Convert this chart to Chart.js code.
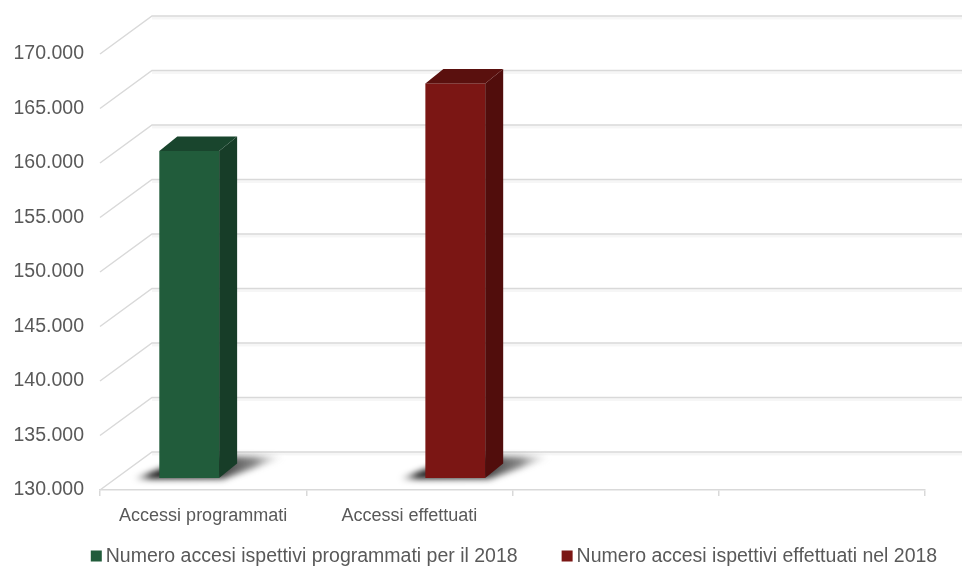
<!DOCTYPE html>
<html><head><meta charset="utf-8">
<script src="https://cdn.jsdelivr.net/npm/chart.js@4/dist/chart.umd.min.js"></script>
<style>html,body{margin:0;padding:0;background:#fff}canvas{display:block}</style>
</head><body>
<canvas id="c" width="962" height="569"></canvas>
<script>
// ---- data ----
const categories = ["Accessi programmati", "Accessi effettuati", "", ""];
const seriesNames = ["Numero accesi ispettivi programmati per il 2018", "Numero accesi ispettivi effettuati nel 2018"];
const programmati = [160000, null, null, null];
const effettuati = [null, 166200, null, null];
const yTicks = [130000, 135000, 140000, 145000, 150000, 155000, 160000, 165000, 170000];

// ---- styling ----
const FONT = "'Liberation Sans', Arial, sans-serif";
const TEXT = '#595959';
const GRID = '#d9d9d9';
const FLOOR = {dx: 52, dy: 38};     // depth of the 3D plot
const BAR_OFF = {dx: 16, dy: 12};   // bar front face position within depth
const BAR_D = {dx: 18, dy: 14.5};   // bar depth
const LEGEND = {centerX: 514, y: 556, box: 11, gap: 4, sep: 44, size: 19.5};

const fmt = v => String(v).replace(/\B(?=(\d{3})+(?!\d))/g, '.');

const threeD = {
  id: 'threeD',
  beforeDatasetsDraw(chart) {
    const ctx = chart.ctx, y = chart.scales.y, a = chart.chartArea;
    ctx.save();
    y.ticks.forEach(t => {
      const py = y.getPixelForValue(t.value);
      ctx.strokeStyle = 'rgba(0,0,0,0.035)'; ctx.lineWidth = 3;
      ctx.beginPath();
      ctx.moveTo(a.left + FLOOR.dx, py - FLOOR.dy + 2);
      ctx.lineTo(chart.width, py - FLOOR.dy + 2);
      ctx.stroke();
      ctx.strokeStyle = GRID; ctx.lineWidth = 1.5;
      ctx.beginPath();
      ctx.moveTo(a.left, py);
      ctx.lineTo(a.left + FLOOR.dx, py - FLOOR.dy);
      ctx.lineTo(chart.width, py - FLOOR.dy);
      ctx.stroke();
    });
    ctx.restore();
  },
  beforeDatasetDraw() { return false; },
  afterDatasetsDraw(chart) {
    const ctx = chart.ctx, ys = chart.scales.y;
    const floorY = ys.getPixelForValue(ys.min);
    const boxes = [];
    chart.data.datasets.forEach((ds, i) => {
      const meta = chart.getDatasetMeta(i);
      meta.data.forEach((bar, j) => {
        if (ds.data[j] == null) return;
        const p = bar.getProps(['x', 'y', 'base', 'width'], true);
        const base = Math.min(p.base, floorY);
        boxes.push({ds, l: p.x - p.width / 2 + BAR_OFF.dx, r: p.x + p.width / 2 + BAR_OFF.dx, t: p.y - BAR_OFF.dy, b: base - BAR_OFF.dy});
      });
    });
    // shadows
    boxes.forEach(({l, r, b}) => {
      ctx.save();
      ctx.filter = 'blur(3px)';
      const x0 = l - 26, x1 = r + BAR_D.dx + 48;
      const g = ctx.createLinearGradient(x0, 0, x1, 0);
      g.addColorStop(0, 'rgba(0,0,0,0.05)');
      g.addColorStop(0.12, 'rgba(0,0,0,0.9)');
      g.addColorStop(0.55, 'rgba(20,20,20,0.85)');
      g.addColorStop(0.8, 'rgba(60,60,60,0.6)');
      g.addColorStop(1, 'rgba(160,160,160,0.0)');
      ctx.fillStyle = g;
      ctx.beginPath();
      ctx.moveTo(x0, b + 1);
      ctx.lineTo(r + 4, b + 1);
      ctx.lineTo(x1, b - BAR_D.dy - 7);
      ctx.lineTo(l + BAR_D.dx + 16, b - BAR_D.dy - 7);
      ctx.closePath();
      ctx.fill();
      ctx.restore();
    });
    // boxes
    boxes.forEach(({ds, l, r, t, b}) => {
      ctx.save();
      ctx.fillStyle = ds.backgroundColor;
      ctx.fillRect(l, t, r - l, b - t);
      ctx.fillStyle = ds.sideColor;
      ctx.beginPath();
      ctx.moveTo(r, t); ctx.lineTo(r + BAR_D.dx, t - BAR_D.dy);
      ctx.lineTo(r + BAR_D.dx, b - BAR_D.dy); ctx.lineTo(r, b); ctx.closePath(); ctx.fill();
      ctx.fillStyle = ds.topColor;
      ctx.beginPath();
      ctx.moveTo(l, t); ctx.lineTo(l + BAR_D.dx, t - BAR_D.dy);
      ctx.lineTo(r + BAR_D.dx, t - BAR_D.dy); ctx.lineTo(r, t); ctx.closePath(); ctx.fill();
      ctx.restore();
    });
  },
  afterDraw(chart) {
    const ctx = chart.ctx;
    ctx.save();
    ctx.font = LEGEND.size + 'px ' + FONT;
    ctx.textBaseline = 'middle';
    ctx.textAlign = 'left';
    const items = chart.data.datasets.map((ds, i) => ({text: seriesNames[i], color: ds.backgroundColor}));
    items.forEach(it => { it.w = LEGEND.box + LEGEND.gap + ctx.measureText(it.text).width; });
    const total = items.reduce((s, it) => s + it.w, 0) + LEGEND.sep * (items.length - 1);
    let x = LEGEND.centerX - total / 2;
    items.forEach(it => {
      ctx.fillStyle = it.color;
      ctx.fillRect(x, LEGEND.y - LEGEND.box / 2, LEGEND.box, LEGEND.box);
      ctx.fillStyle = TEXT;
      ctx.fillText(it.text, x + LEGEND.box + LEGEND.gap, LEGEND.y + 1);
      x += it.w + LEGEND.sep;
    });
    ctx.restore();
  }
};

new Chart(document.getElementById('c'), {
  type: 'bar',
  data: {
    labels: categories,
    datasets: [
      {label: seriesNames[0], data: programmati, backgroundColor: '#215c3b', sideColor: '#173d28', topColor: '#19452d'},
      {label: seriesNames[1], data: effettuati, backgroundColor: '#7b1614', sideColor: '#510d0c', topColor: '#5a100e'}
    ]
  },
  options: {
    responsive: false,
    animation: false,
    devicePixelRatio: 1,
    layout: {padding: {top: 54, right: 37, left: 0, bottom: 30}},
    datasets: {bar: {categoryPercentage: 0.58, barPercentage: 1}},
    plugins: {
      tooltip: {enabled: false},
      legend: {display: false}
    },
    scales: {
      x: {
        grid: {offset: true, drawOnChartArea: false, drawTicks: true, tickLength: 6, color: GRID, lineWidth: 1.5},
        border: {display: true, color: GRID, width: 1.5},
        ticks: {padding: 9, color: TEXT, font: {family: FONT, size: 18}, maxRotation: 0},
        afterFit(s) { s.height = 49; }
      },
      y: {
        min: yTicks[0], max: yTicks[yTicks.length - 1],
        afterBuildTicks(s) { s.ticks = yTicks.map(v => ({value: v})); },
        grid: {display: false, drawTicks: false},
        border: {display: false},
        ticks: {padding: 16, color: TEXT, font: {family: FONT, size: 19.5}, callback: v => fmt(v)},
        afterFit(s) { s.width = 100; }
      }
    }
  },
  plugins: [threeD]
});
</script>
</body></html>
